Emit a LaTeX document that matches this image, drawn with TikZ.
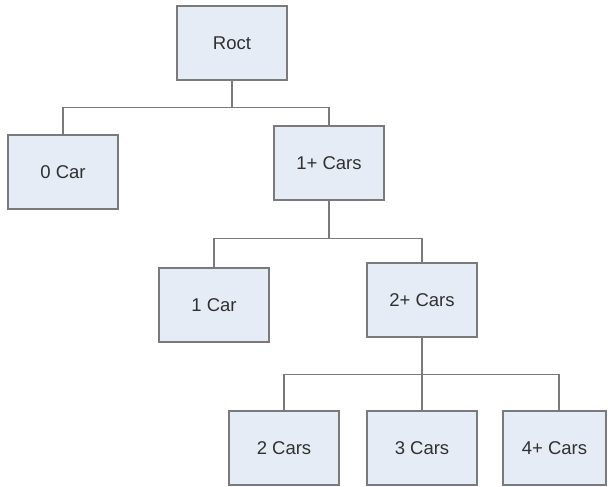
\documentclass[tikz,border=0pt]{standalone}
\usepackage{fontspec}
\setmainfont{Liberation Sans}
\usetikzlibrary{positioning}

\definecolor{boxfill}{HTML}{E6ECF6}
\definecolor{boxline}{HTML}{7A7A7A}
\definecolor{textgray}{HTML}{303030}

\tikzset{
  carbox/.style={draw=boxline, fill=boxfill, line width=1.4pt,
    minimum width=110pt, minimum height=74pt,
    font=\fontsize{18.5}{22}\selectfont, text=textgray},
  treeline/.style={draw=boxline, line width=1.4pt}
}

\begin{document}
\begin{tikzpicture}[x=1pt, y=1pt]    % Fix the page size
    \useasboundingbox (0,0) rectangle (608,487);
    % Draw the boxes
    \node[carbox] (root) at (232,444) {Roct};
    \node[carbox] (zero) at (63,315) {0 Car};
    \node[carbox] (oneplus) at (329,324) {1+ Cars};
    \node[carbox] (one) at (214,182) {1 Car};
    \node[carbox] (twoplus) at (422,187) {2+ Cars};
    \node[carbox] (two) at (284,39) {2 Cars};
    \node[carbox] (three) at (422,39) {3 Cars};
    \node[carbox, minimum width=103pt] (fourplus) at (554.5,39) {4+ Cars};

    % Draw the connectors
    \draw[treeline] (root.south) -- ++(0,-27) -| (zero.north);
    \draw[treeline] (root.south) -- ++(0,-27) -| (oneplus.north);
    \draw[treeline] (oneplus.south) -- ++(0,-38) -| (one.north);
    \draw[treeline] (oneplus.south) -- ++(0,-38) -| (twoplus.north);
    \draw[treeline] (twoplus.south) -- ++(0,-37) -| (two.north);
    \draw[treeline] (twoplus.south) -- (three.north);
    \draw[treeline] (twoplus.south) -- ++(0,-37) -| ([xshift=4.5pt]fourplus.north);
  \end{tikzpicture}
\end{document}
